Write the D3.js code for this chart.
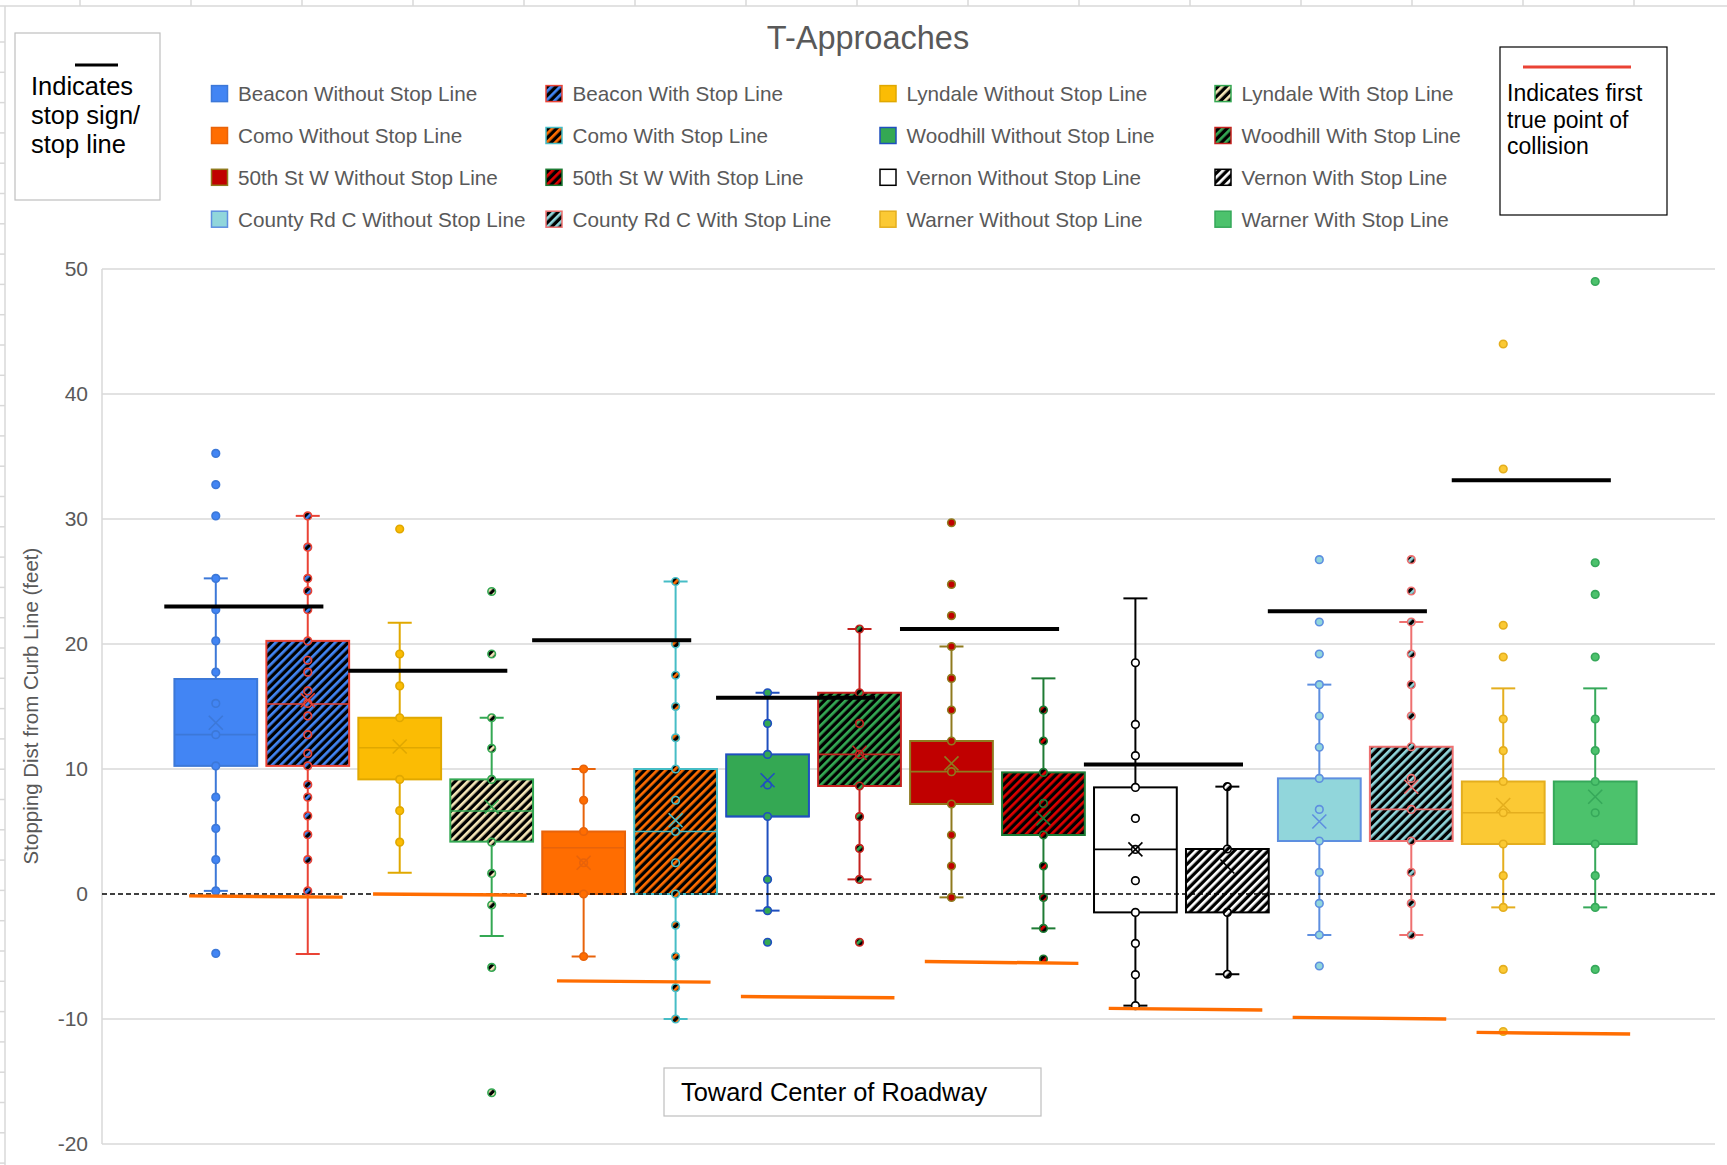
<!DOCTYPE html>
<html><head><meta charset="utf-8">
<script src="https://cdn.jsdelivr.net/npm/d3@7"></script>
<style>
body{margin:0;background:#fff}
svg{display:block}
text{font-family:"Liberation Sans",Arial,Helvetica,sans-serif}
</style>
</head><body>
<svg id="chart" width="1727" height="1165"></svg>
<script>
// ---------------- DATA ----------------
const seriesNames = [
  "Beacon Without Stop Line", "Beacon With Stop Line",
  "Lyndale Without Stop Line", "Lyndale With Stop Line",
  "Como Without Stop Line", "Como With Stop Line",
  "Woodhill Without Stop Line", "Woodhill With Stop Line",
  "50th St W Without Stop Line", "50th St W With Stop Line",
  "Vernon Without Stop Line", "Vernon With Stop Line",
  "County Rd C Without Stop Line", "County Rd C With Stop Line",
  "Warner Without Stop Line", "Warner With Stop Line"
];
const q1Values      = [10.25, 10.25, 9.17, 4.19, 0.0, 0.0, 6.2, 8.64, 7.2, 4.72, -1.47, -1.47, 4.24, 4.24, 4.0, 4.0];
const medianValues  = [12.75, 15.2, 11.7, 6.64, 3.7, 5.0, 6.2, 11.17, 9.79, 4.72, 3.57, 3.6, 4.24, 6.77, 6.5, 4.0];
const q3Values      = [17.2, 20.25, 14.1, 9.17, 5.0, 10.0, 11.17, 16.1, 12.24, 9.73, 8.53, 3.6, 9.25, 11.78, 9.0, 9.0];
const meanValues    = [13.7, 15.5, 11.8, 6.98, 2.5, 5.9, 9.1, 11.3, 10.45, 6.05, 3.57, 2.2, 5.8, 8.58, 7.12, 7.78];
const whiskerLow    = [0.25, -4.8, 1.7, -3.36, -5.0, -10.0, -1.33, 1.17, -0.27, -2.75, -8.93, -6.42, -3.28, -3.28, -1.07, -1.07];
const whiskerHigh   = [25.25, 30.25, 21.7, 14.1, 10.0, 25.0, 16.1, 21.2, 19.8, 17.25, 23.65, 8.59, 16.75, 21.76, 16.45, 16.45];
const pointValues = [
  [35.25, 32.75, 30.25, 25.25, 22.75, 20.25, 17.75, 15.25, 12.75, 10.25, 7.75, 5.25, 2.75, 0.25, -4.75],
  [30.25, 27.75, 25.25, 24.25, 22.75, 20.25, 18.7, 17.75, 16.25, 15.25, 14.25, 12.75, 11.25, 10.25, 8.75, 7.75, 6.25, 4.75, 2.75, 0.25],
  [29.2, 19.2, 16.65, 14.1, 9.17, 6.67, 4.15],
  [24.2, 19.2, 14.1, 11.65, 9.17, 4.15, 1.65, -0.88, -5.87, -15.9],
  [10.0, 7.5, 5.0, 2.5, 0.0, -5.0],
  [25.0, 20.0, 17.5, 15.0, 12.5, 10.0, 7.5, 5.0, 2.5, 0.0, -2.5, -5.0, -7.5, -10.0],
  [16.1, 13.65, 11.17, 8.72, 6.2, 1.17, -1.33, -3.86],
  [21.2, 16.1, 13.65, 11.17, 8.64, 6.19, 3.65, 1.17, -3.86],
  [29.7, 24.77, 22.27, 19.8, 17.25, 14.72, 12.24, 9.79, 7.2, 4.72, 2.24, -0.27],
  [14.72, 12.24, 9.73, 7.25, 4.72, 2.24, -0.27, -2.75, -5.2],
  [18.5, 13.57, 11.07, 8.53, 6.05, 3.57, 1.07, -1.47, -3.95, -6.45, -8.93],
  [8.59, 3.6, -1.47, -6.42],
  [26.75, 21.76, 19.2, 16.75, 14.24, 11.74, 9.25, 6.77, 4.24, 1.73, -0.75, -3.28, -5.76],
  [26.75, 24.24, 21.76, 19.2, 16.75, 14.24, 11.78, 9.25, 6.77, 4.24, 1.73, -0.75, -3.28],
  [44.0, 34.0, 21.5, 18.96, 14.0, 11.47, 9.0, 6.5, 4.0, 1.47, -1.07, -6.03, -11.0],
  [49.0, 26.5, 23.97, 18.96, 14.0, 11.47, 9.0, 6.5, 4.0, 1.47, -1.07, -6.03]
];
// one stop-line / collision marker per approach (pair of boxes)
const approaches      = ["Beacon", "Lyndale", "Como", "Woodhill", "50th St W", "Vernon", "County Rd C", "Warner"];
const stopLineValues  = [23.0, 17.87, 20.3, 15.7, 21.2, 10.37, 22.62, 33.1];
const collisionLeft   = [-0.15, 0.0, -6.95, -8.2, -5.4, -9.15, -9.87, -11.07];
const collisionRight  = [-0.25, -0.1, -7.05, -8.3, -5.55, -9.28, -10.0, -11.2];
const yTicks = [-20, -10, 0, 10, 20, 30, 40, 50];

// ---------------- STYLES ----------------
const baseColors   = ["#4285F4","#4285F4","#FBBC04","#F5E6B8","#FF6D01","#FF6D01","#34A853","#34A853",
                      "#C00000","#DD0000","#FFFFFF","#FFFFFF","#91D6DB","#91D6DB","#FBC934","#4CC26C"];
const hatched      = [false,true,false,true,false,true,false,true,false,true,false,true,false,true,false,false];
const strokeColors = ["#3C78D8","#EA4335","#E0A800","#34A853","#E8630A","#46BDC6","#1F4FBF","#C5221F",
                      "#8F7A1E","#1E7B34","#000000","#000000","#5E8FE0","#EE7070","#E4AE1E","#36A85A"];
const textGrey = "#595959";

// ---------------- LAYOUT ----------------
const svg = d3.select("#chart");
const W = 1727, H = 1165;
const plot = {left: 102, right: 1715, top: 269, bottom: 1144};

const defs = svg.append("defs");
seriesNames.forEach((n, i) => {
  if (!hatched[i]) return;
  const p = defs.append("pattern").attr("id", "hatch" + i)
    .attr("patternUnits", "userSpaceOnUse").attr("width", 6).attr("height", 6)
    .attr("patternTransform", "rotate(45)");
  p.append("rect").attr("width", 6).attr("height", 6).attr("fill", "#000");
  p.append("rect").attr("width", 2.7).attr("height", 6).attr("fill", baseColors[i]);
});
const fillOf = i => hatched[i] ? `url(#hatch${i})` : baseColors[i];

svg.append("rect").attr("width", W).attr("height", H).attr("fill", "#fff");

// sheet edge lines
const sheet = svg.append("g").attr("stroke", "#d9d9d9").attr("stroke-width", 1.5);
sheet.append("line").attr("x1", 0).attr("x2", W).attr("y1", 6).attr("y2", 6);
sheet.append("line").attr("x1", 5).attr("x2", 5).attr("y1", 6).attr("y2", H);
d3.range(80, W, 111).forEach(v => sheet.append("line").attr("x1", v).attr("x2", v).attr("y1", 0).attr("y2", 6));
d3.range(42, H, 30.3).forEach(v => sheet.append("line").attr("x1", 0).attr("x2", 5).attr("y1", v).attr("y2", v));

// scales
const x = d3.scaleBand().domain(seriesNames).range([plot.left - 3, plot.right - 3])
  .paddingInner(0.1).paddingOuter(0.82);
const bw = x.bandwidth();
const cx = name => x(name) + bw / 2;
const xi = d3.scaleLinear().domain([0, 1]).range([cx(seriesNames[0]), cx(seriesNames[1])]);
const y = d3.scaleLinear().domain([-20, 50]).range([plot.bottom, plot.top]);

// gridlines
const grid = svg.append("g");
grid.selectAll("line").data(yTicks.filter(t => t !== 0)).join("line")
  .attr("x1", plot.left).attr("x2", plot.right)
  .attr("y1", d => y(d)).attr("y2", d => y(d))
  .attr("stroke", "#d9d9d9").attr("stroke-width", 1.5);
grid.append("line").attr("x1", plot.left).attr("x2", plot.left)
  .attr("y1", plot.top).attr("y2", plot.bottom).attr("stroke", "#d9d9d9").attr("stroke-width", 1.5);

// y axis
const yAxis = svg.append("g").attr("transform", `translate(${plot.left},0)`)
  .call(d3.axisLeft(y).tickValues(yTicks).tickSize(0).tickPadding(14).tickFormat(d => String(d)));
yAxis.select(".domain").remove();
yAxis.selectAll("text").attr("font-size", 21).attr("fill", textGrey)
  .style("font-family", '"Liberation Sans",Arial,sans-serif');

svg.append("text").attr("transform", "translate(38,706) rotate(-90)")
  .attr("text-anchor", "middle").attr("font-size", 20.5).attr("fill", textGrey)
  .text("Stopping Dist from Curb Line (feet)");

// boxes
const boxes = svg.append("g");
seriesNames.forEach((name, i) => {
  const g = boxes.append("g");
  const c = cx(name), col = strokeColors[i];
  g.append("line").attr("x1", c).attr("x2", c).attr("y1", y(whiskerHigh[i])).attr("y2", y(q3Values[i]))
    .attr("stroke", col).attr("stroke-width", 2);
  g.append("line").attr("x1", c).attr("x2", c).attr("y1", y(q1Values[i])).attr("y2", y(whiskerLow[i]))
    .attr("stroke", col).attr("stroke-width", 2);
  [whiskerHigh[i], whiskerLow[i]].forEach(v =>
    g.append("line").attr("x1", c - 12).attr("x2", c + 12).attr("y1", y(v)).attr("y2", y(v))
      .attr("stroke", col).attr("stroke-width", 2));
  g.append("rect").attr("x", x(name)).attr("width", bw)
    .attr("y", y(q3Values[i])).attr("height", y(q1Values[i]) - y(q3Values[i]))
    .attr("fill", fillOf(i)).attr("stroke", col).attr("stroke-width", 2);
  g.append("line").attr("x1", x(name)).attr("x2", x(name) + bw)
    .attr("y1", y(medianValues[i])).attr("y2", y(medianValues[i]))
    .attr("stroke", col).attr("stroke-width", 1.6);
});

// zero dashed line
svg.append("line").attr("x1", plot.left).attr("x2", plot.right)
  .attr("y1", y(0)).attr("y2", y(0))
  .attr("stroke", "#000").attr("stroke-width", 1.4).attr("stroke-dasharray", "5,3");

// points and means
const marks = svg.append("g");
seriesNames.forEach((name, i) => {
  const c = cx(name), col = strokeColors[i];
  marks.append("g").selectAll("circle").data(pointValues[i]).join("circle")
    .attr("cx", c).attr("cy", d => y(d)).attr("r", 3.8)
    .attr("fill", fillOf(i)).attr("stroke", col).attr("stroke-width", 1.6);
  const my = y(meanValues[i]), s = 7;
  marks.append("path").attr("d", `M${c - s},${my - s}L${c + s},${my + s}M${c - s},${my + s}L${c + s},${my - s}`)
    .attr("stroke", col).attr("stroke-width", 1.6).attr("fill", "none");
});

// stop lines & collision lines
const refs = svg.append("g");
refs.selectAll("line.stop").data(approaches).join("line").attr("class", "stop")
  .attr("x1", (d, k) => xi(2 * k - 0.56)).attr("x2", (d, k) => xi(2 * k + 1.17))
  .attr("y1", (d, k) => y(stopLineValues[k])).attr("y2", (d, k) => y(stopLineValues[k]))
  .attr("stroke", "#000").attr("stroke-width", 4);
refs.selectAll("line.coll").data(approaches).join("line").attr("class", "coll")
  .attr("x1", (d, k) => xi(2 * k - 0.29)).attr("x2", (d, k) => xi(2 * k + 1.38))
  .attr("y1", (d, k) => y(collisionLeft[k])).attr("y2", (d, k) => y(collisionRight[k]))
  .attr("stroke", "#FF6D01").attr("stroke-width", 3.5);

// title
svg.append("text").attr("x", 868).attr("y", 49).attr("text-anchor", "middle")
  .attr("font-size", 32.5).attr("fill", textGrey).text("T-Approaches");

// legend
const legCols = [211.5, 546, 880, 1215];
const legRows = [93.6, 135.5, 177.3, 219.2];
const leg = svg.append("g");
seriesNames.forEach((name, i) => {
  const lx = legCols[i % 4], ly = legRows[Math.floor(i / 4)];
  leg.append("rect").attr("x", lx).attr("y", ly - 8).attr("width", 16).attr("height", 16)
    .attr("fill", fillOf(i)).attr("stroke", strokeColors[i]).attr("stroke-width", 1.5);
  leg.append("text").attr("x", lx + 26.5).attr("y", ly).attr("dy", "0.36em")
    .attr("font-size", 20.7).attr("fill", textGrey).text(name);
});

// left note box
const nb = svg.append("g");
nb.append("rect").attr("x", 15).attr("y", 33).attr("width", 145).attr("height", 167)
  .attr("fill", "#fff").attr("stroke", "#bfbfbf").attr("stroke-width", 1.2);
nb.append("line").attr("x1", 75).attr("x2", 118).attr("y1", 65).attr("y2", 65)
  .attr("stroke", "#000").attr("stroke-width", 3);
["Indicates", "stop sign/", "stop line"].forEach((t, k) =>
  nb.append("text").attr("x", 31).attr("y", 95 + k * 29).attr("font-size", 25.5).attr("fill", "#000").text(t));

// right note box
const rb = svg.append("g");
rb.append("rect").attr("x", 1500).attr("y", 47).attr("width", 167).attr("height", 168)
  .attr("fill", "#fff").attr("stroke", "#000").attr("stroke-width", 1.2);
rb.append("line").attr("x1", 1523).attr("x2", 1631).attr("y1", 67).attr("y2", 67)
  .attr("stroke", "#EA4335").attr("stroke-width", 3);
["Indicates first", "true point of", "collision"].forEach((t, k) =>
  rb.append("text").attr("x", 1507).attr("y", 101 + k * 26.5).attr("font-size", 23).attr("fill", "#000").text(t));

// bottom label box
const bb = svg.append("g");
bb.append("rect").attr("x", 664).attr("y", 1068).attr("width", 377).attr("height", 48)
  .attr("fill", "#fff").attr("stroke", "#bfbfbf").attr("stroke-width", 1.2);
bb.append("text").attr("x", 681).attr("y", 1101).attr("font-size", 25.4).attr("fill", "#000")
  .text("Toward Center of Roadway");
</script>
</body></html>
